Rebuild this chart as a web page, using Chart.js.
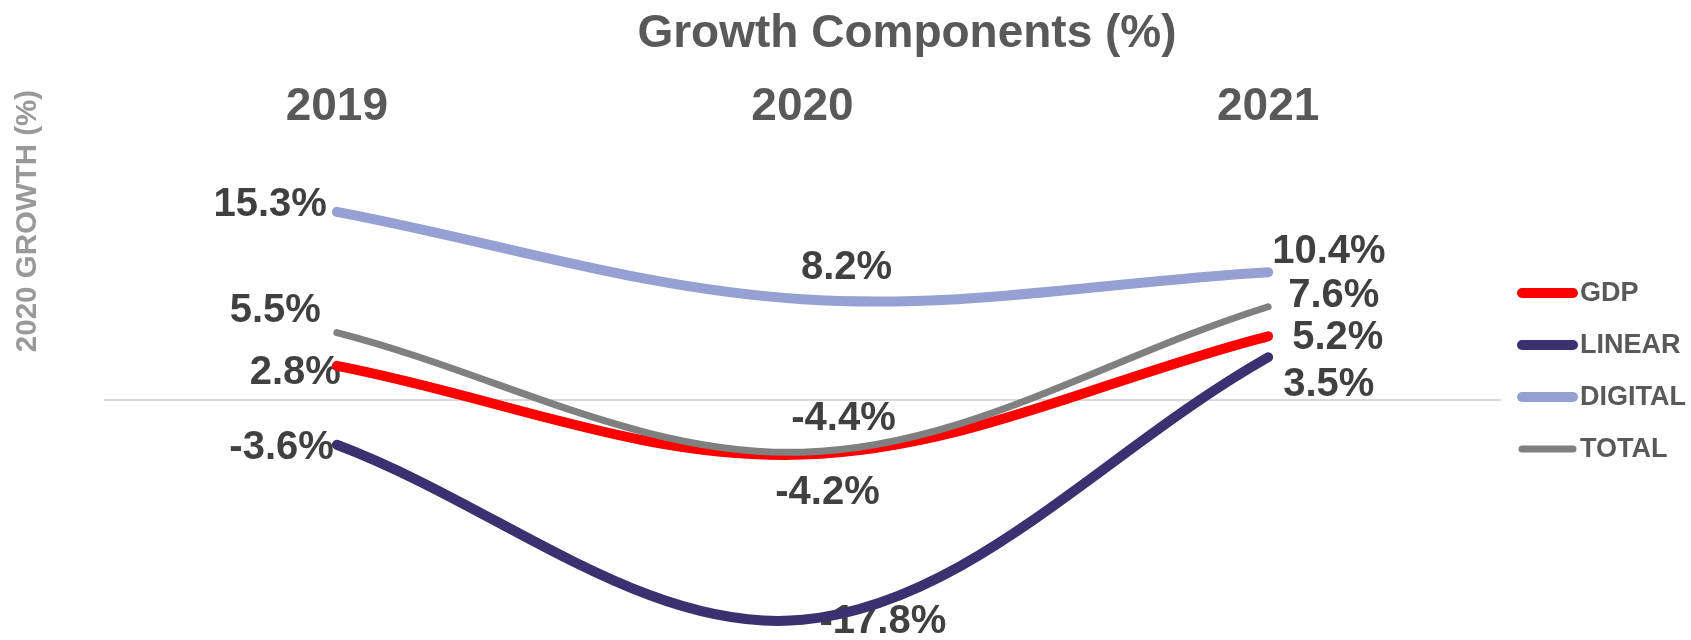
<!DOCTYPE html>
<html>
<head>
<meta charset="utf-8">
<script src="https://cdn.jsdelivr.net/npm/chart.js@4.4.0/dist/chart.umd.min.js"></script>
<style>
  html, body { margin: 0; padding: 0; background: #ffffff; }
  #wrap { width: 1691px; height: 640px; position: relative; }
</style>
</head>
<body>
<div id="wrap"><canvas id="growthChart"></canvas></div>
<script>
const years = ["2019", "2020", "2021"];
const gdp = [2.8, -4.4, 5.2];
const linear = [-3.6, -17.8, 3.5];
const digital = [15.3, 8.2, 10.4];
const total = [5.5, -4.2, 7.6];

const seriesNames = ["GDP", "LINEAR", "DIGITAL", "TOTAL"];
const seriesColors = ["#ff0000", "#3b3170", "#96a0d2", "#808080"];
const seriesWidths = [10, 10, 10, 7];

// where each value label sits relative to its point: [dx, dy, align]
const labelPlacement = [
    [[4, 7, "right"], [41, -36, "center"], [24, 2, "left"]],
    [[-3, 3, "right"], [17, 2, "left"], [15, 28, "left"]],
    [[-10, -7, "right"], [44, -31, "center"], [4, -20, "left"]],
    [[-16, -22, "right"], [25, 41, "center"], [20, -11, "left"]]
];

const boldFont = '"Liberation Sans", Arial, sans-serif';
const chartTitle = "Growth Components (%)";
const yTitle = "2020 GROWTH (%)";

// zero line height and vertical scale of the plot, in px
const zeroLineY = 403;
const pxPerPoint = 12.45;

const valueLabels = {
    id: "valueLabels",
    beforeDatasetsDraw(chart) {
        const ctx = chart.ctx;
        ctx.save();
        ctx.font = "bold 40px " + boldFont;
        ctx.fillStyle = "#404040";
        ctx.textBaseline = "middle";
        chart.data.datasets.forEach((ds, i) => {
            chart.getDatasetMeta(i).data.forEach((pt, j) => {
                const [dx, dy, align] = labelPlacement[i][j];
                ctx.textAlign = align;
                ctx.fillText(ds.data[j].toFixed(1) + "%", pt.x + dx, pt.y + dy);
            });
        });
        ctx.restore();
    }
};

const captions = {
    id: "captions",
    afterDraw(chart) {
        const ctx = chart.ctx;
        const x0 = chart.chartArea.right + 21;
        ctx.save();
        // legend on the right: short round-capped strokes with names
        chart.data.datasets.forEach((ds, i) => {
            const y = 293 + i * 52;
            ctx.strokeStyle = ds.borderColor;
            ctx.lineWidth = ds.borderWidth;
            ctx.lineCap = "round";
            ctx.beginPath();
            ctx.moveTo(x0, y);
            ctx.lineTo(x0 + 51, y);
            ctx.stroke();
            ctx.fillStyle = "#595959";
            ctx.font = "bold 27px " + boldFont;
            ctx.textAlign = "left";
            ctx.textBaseline = "middle";
            ctx.fillText(ds.label, x0 + 58, y + 1);
        });

        // main title
        ctx.fillStyle = "#595959";
        ctx.font = "bold 46px " + boldFont;
        ctx.textAlign = "center";
        ctx.textBaseline = "middle";
        ctx.fillText(chartTitle, 907, 34.5);

        // rotated axis caption on the left edge
        ctx.translate(28, 221);
        ctx.rotate(-Math.PI / 2);
        ctx.font = "bold 29.5px " + boldFont;
        ctx.fillStyle = "#999999";
        ctx.fillText(yTitle, 0, 0);
        ctx.restore();
    }
};

const seriesData = [gdp, linear, digital, total];

const chart = new Chart(document.getElementById("growthChart"), {
    type: "line",
    data: {
        labels: years,
        datasets: seriesData.map((values, i) => ({
            label: seriesNames[i],
            data: values,
            borderColor: seriesColors[i],
            backgroundColor: seriesColors[i],
            borderWidth: seriesWidths[i],
            borderCapStyle: "round",
            pointRadius: 0,
            tension: 0.35,
            fill: false,
            order: 4 - i
        }))
    },
    options: {
        responsive: true,
        maintainAspectRatio: false,
        animation: false,
        layout: { padding: { left: 104, right: 190, top: 80, bottom: 0 } },
        plugins: {
            legend: { display: false },
            tooltip: { enabled: false },
            title: { display: false }
        },
        scales: {
            x: {
                position: "top",
                offset: true,
                grid: { display: false },
                border: { display: false },
                ticks: {
                    color: "#595959",
                    padding: 0,
                    font: { family: boldFont, size: 46, weight: "bold" }
                }
            },
            y: {
                min: -19,
                max: 20,
                afterFit(scale) { scale.width = 0; },
                ticks: { display: false, stepSize: 1 },
                border: { display: false },
                grid: {
                    drawTicks: false,
                    lineWidth: 2,
                    color: c => c.tick.value === 0 ? "#d9d9d9" : "rgba(0,0,0,0)"
                }
            }
        }
    },
    plugins: [valueLabels, captions]
});

// stretch the value range so zero and the point spacing land where wanted
const area = chart.chartArea;
chart.options.scales.y.max = (zeroLineY - area.top) / pxPerPoint;
chart.options.scales.y.min = -(area.bottom - zeroLineY) / pxPerPoint;
chart.update();
</script>
</body>
</html>
